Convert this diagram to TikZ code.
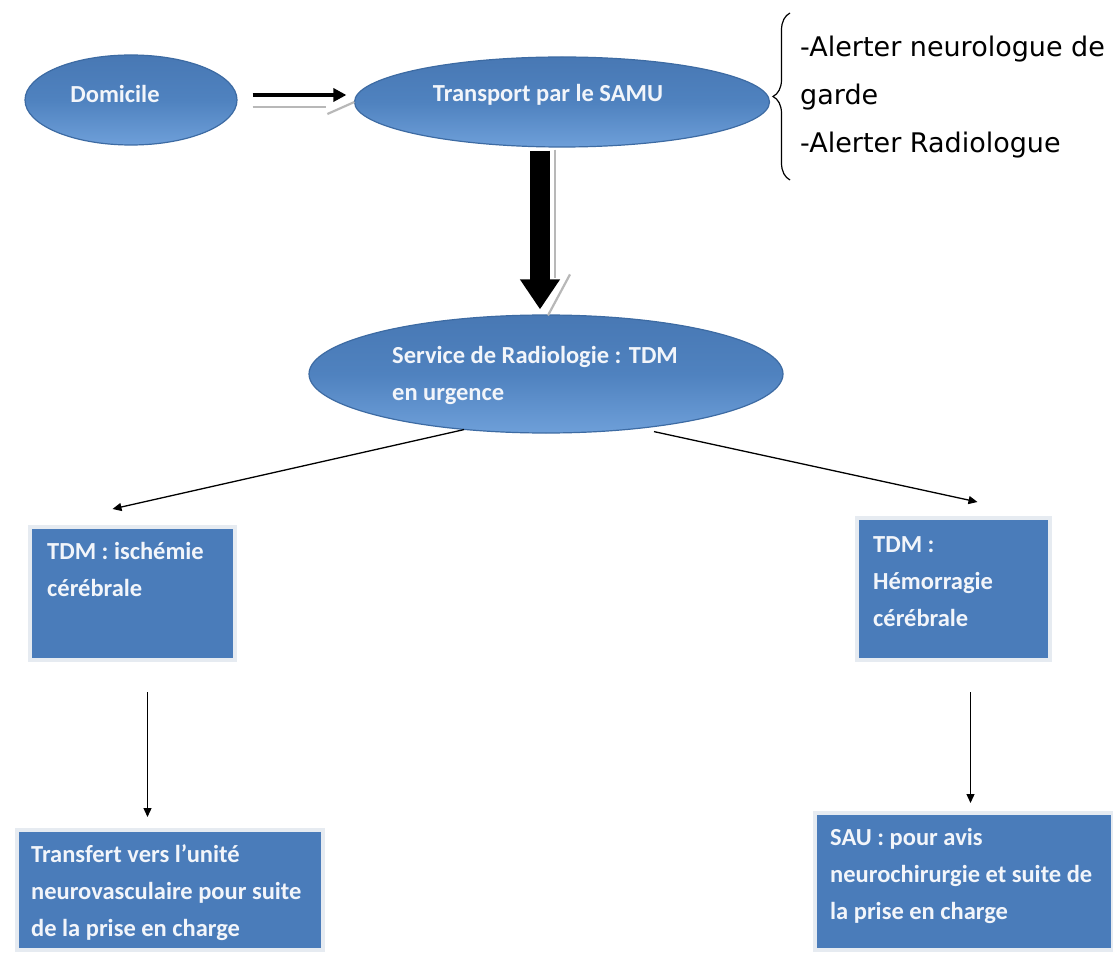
\documentclass[tikz,border=0pt]{standalone}
\usepackage{fontspec}
\setmainfont{Carlito}
\newfontfamily\bracefont{DejaVu Sans}
\usetikzlibrary{arrows.meta,shapes.geometric,decorations.pathreplacing,calc}
\definecolor{elltop}{HTML}{4878B4}
\definecolor{ellmid}{HTML}{4F82BF}
\definecolor{ellbot}{HTML}{6E9FD9}
\definecolor{elldraw}{HTML}{3D6BA3}
\definecolor{boxblue}{HTML}{4A7CBA}
\definecolor{boxframe}{HTML}{E6EBF1}
\definecolor{wtext}{HTML}{F2F5FA}
\definecolor{shadowgray}{HTML}{B8B8B8}
\tikzset{
  ell/.style={ellipse, draw=elldraw, line width=1.2pt, top color=elltop, bottom color=ellbot, middle color=ellmid, inner sep=0pt},
  etext/.style={text=wtext, font=\fontsize{24.5}{37}\selectfont\bfseries, align=left, inner sep=0pt},
  box/.style={rectangle, fill=boxblue, draw=boxframe, line width=4pt, inner sep=0pt},
  btext/.style={text=wtext, font=\fontsize{24.5}{37}\selectfont\bfseries, align=left, inner sep=0pt, anchor=north west},
  thin arrow/.style={draw=black, line width=1.3pt, -{Triangle[length=9pt 0 0,width=8pt 0 0]}},
  shadowline/.style={draw=shadowgray, line width=2.2pt},
}
\begin{document}
\begin{tikzpicture}[x=1pt,y=-1pt]
\useasboundingbox (0,0) rectangle (1113,957);
\fill[white] (0,0) rectangle (1113,957);

% ellipses
\node[ell, minimum width=212pt, minimum height=90pt] (dom) at (131,100) {};
\node[etext] (domt) at (115,94) {Domicile};
\node[ell, minimum width=415pt, minimum height=90pt] (trans) at (562,102) {};
\node[etext] (transt) at (548,95) {Transport par le SAMU};
\node[ell, minimum width=474pt, minimum height=118pt] (serv) at (546,374) {};
\node[etext, anchor=west] (servt) at (392,375) {Service de Radiologie : TDM\\en urgence};

% brace and text
\draw[line width=1.2pt, decorate, decoration={brace, amplitude=17pt}] (790,180) -- (790,13);
\node[anchor=west, align=left, inner sep=0pt, font=\bracefont\fontsize{27}{48}\selectfont] (alert) at (800,97) {-Alerter neurologue de\\garde\\-Alerter Radiologue};

% boxes
\node[box, minimum width=205pt, minimum height=133pt] (b1) at (132.5,593.5) {};
\node[btext] (b1t) at ([xshift=19pt,yshift=-17pt]b1.north west) {TDM : ischémie\\cérébrale};
\node[box, minimum width=193pt, minimum height=142pt] (b2) at (953.5,589) {};
\node[btext] (b2t) at ([xshift=18pt,yshift=-20pt]b2.north west) {TDM :\\Hémorragie\\cérébrale};
\node[box, minimum width=306pt, minimum height=120pt] (b3) at (170,890) {};
\node[btext] (b3t) at ([xshift=16pt,yshift=-16pt]b3.north west) {Transfert vers l’unité\\neurovasculaire pour suite\\de la prise en charge};
\node[box, minimum width=298pt, minimum height=137pt] (b4) at (964,881.5) {};
\node[btext] (b4t) at ([xshift=17pt,yshift=-17pt]b4.north west) {SAU : pour avis\\neurochirurgie et suite de\\la prise en charge};

% Domicile -> Transport
\draw[shadowline] ([xshift=15pt,yshift=-7pt]dom.east) -- ([xshift=-27.5pt,yshift=-5pt]trans.west);
\draw[shadowline] ([xshift=-26.5pt,yshift=-12pt]trans.west) -- ([xshift=0.5pt,yshift=0pt]trans.west);
\draw[line width=4pt, -{Triangle[length=13pt 0 0,width=13pt 0 0]}] ([xshift=15pt,yshift=5pt]dom.east) -- ([xshift=-7.5pt,yshift=7pt]trans.west);

% Transport -> Service (thick)
\draw[shadowline] ([xshift=-7pt,yshift=-2pt]trans.south) -- ([xshift=-7pt,yshift=-130pt]trans.south);
\draw[shadowline] ([xshift=24pt,yshift=40pt]serv.north) -- ([xshift=2pt,yshift=-1pt]serv.north);
\draw[line width=20pt, -{Triangle[length=30pt 0 0,width=38pt 0 0]}] ([xshift=-22pt,yshift=-3pt]trans.south) -- ([xshift=-6pt,yshift=5pt]serv.north);

% Service -> boxes
\draw[thin arrow] ([xshift=-82pt,yshift=4pt]serv.south) -- ([xshift=-20pt,yshift=16pt]b1.north);
\draw[thin arrow] ([xshift=108pt,yshift=2pt]serv.south) -- ([xshift=24pt,yshift=14pt]b2.north);

% vertical arrows
\draw[thin arrow, shorten <=30pt, shorten >=11pt] ([xshift=15pt]b1.south) -- ([xshift=15pt]b1.south |- b3.north);
\draw[thin arrow, shorten <=30pt, shorten >=8pt] ([xshift=17pt]b2.south) -- ([xshift=17pt]b2.south |- b4.north);
\end{tikzpicture}
\end{document}
